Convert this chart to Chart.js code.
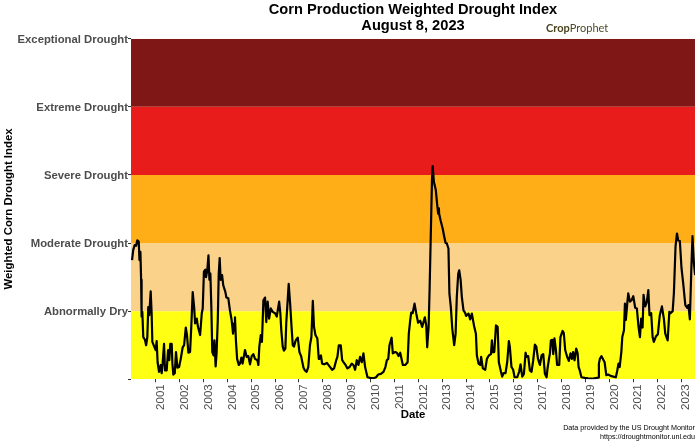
<!DOCTYPE html>
<html><head><meta charset="utf-8">
<style>html,body{margin:0;padding:0;background:#fff}canvas{display:block}</style>
<script src="https://cdn.jsdelivr.net/npm/chart.js@4"></script>
</head><body><canvas id="c" width="700" height="444"></canvas>
<script>
const severityLabels = ['', 'Abnormally Dry', 'Moderate Drought', 'Severe Drought', 'Extreme Drought', 'Exceptional Drought'];
const tickYears = [2001,2002,2003,2004,2005,2006,2007,2008,2009,2010,2011,2012,2013,2014,2015,2016,2017,2018,2019,2020,2021,2022,2023];
const bandColors = ['#FFFF14','#FAD28A','#FFAE17','#E91C1C','#7F1716'];
const dates = [
2000.01,2000.06,2000.12,2000.18,2000.23,2000.29,2000.32,2000.36,2000.39,2000.41,2000.44,2000.48,2000.55,2000.60,2000.65,2000.69,2000.73,2000.79,2000.83,2000.86,2000.94,
2001.00,2001.04,2001.08,2001.14,2001.21,2001.25,2001.29,2001.35,2001.39,2001.46,2001.52,2001.57,2001.61,2001.67,2001.70,2001.74,2001.80,2001.85,2001.91,2001.98,
2002.05,2002.13,2002.19,2002.26,2002.31,2002.37,2002.44,2002.49,2002.55,2002.61,2002.65,2002.72,2002.77,2002.86,2002.93,2002.97,
2003.02,2003.08,2003.11,2003.16,2003.21,2003.25,2003.29,2003.33,2003.37,2003.43,2003.46,2003.51,2003.55,2003.60,2003.64,2003.68,2003.72,2003.78,2003.83,2003.92,2003.96,
2004.04,2004.11,2004.18,2004.24,2004.28,2004.32,2004.36,2004.41,2004.48,2004.53,2004.59,2004.64,2004.74,2004.81,2004.88,2004.95,
2005.02,2005.09,2005.16,2005.26,2005.30,2005.34,2005.40,2005.45,2005.51,2005.58,2005.63,2005.69,2005.75,2005.82,2005.90,
2006.00,2006.07,2006.17,2006.22,2006.26,2006.32,2006.37,2006.43,2006.47,2006.57,2006.63,2006.68,2006.74,2006.79,2006.86,2006.95,
2007.02,2007.09,2007.19,2007.25,2007.32,2007.39,2007.46,2007.52,2007.58,2007.63,2007.69,2007.77,2007.83,2007.86,2007.92,2007.97,
2008.06,2008.17,2008.28,2008.39,2008.47,2008.56,2008.61,2008.67,2008.75,2008.81,2008.87,2008.95,
2009.03,2009.12,2009.21,2009.28,2009.35,2009.42,2009.49,2009.56,2009.63,2009.70,2009.77,2009.87,2009.98,
2010.12,2010.23,2010.32,2010.43,2010.54,2010.62,2010.68,2010.74,2010.79,2010.88,2010.93,
2011.03,2011.10,2011.17,2011.24,2011.35,2011.45,2011.55,2011.60,2011.66,2011.70,2011.76,2011.84,2011.91,2011.99,
2012.08,2012.16,2012.27,2012.33,2012.37,2012.43,2012.47,2012.57,2012.60,2012.65,2012.73,2012.79,2012.83,2012.86,2012.87,2012.93,
2013.02,2013.08,2013.14,2013.19,2013.26,2013.30,2013.36,2013.42,2013.50,2013.56,2013.61,2013.67,2013.71,2013.77,2013.82,2013.89,2013.96,
2014.00,2014.10,2014.17,2014.24,2014.34,2014.41,2014.45,2014.52,2014.59,2014.63,2014.70,2014.80,2014.87,2014.95,
2015.04,2015.08,2015.12,2015.18,2015.25,2015.32,2015.37,2015.46,2015.51,2015.57,2015.65,2015.72,2015.79,2015.83,2015.90,2015.97,
2016.03,2016.14,2016.22,2016.28,2016.35,2016.42,2016.49,2016.53,2016.60,2016.67,2016.74,2016.81,2016.88,2016.94,
2017.01,2017.09,2017.16,2017.23,2017.30,2017.37,2017.41,2017.47,2017.51,2017.55,2017.61,2017.65,2017.70,2017.76,2017.81,2017.90,2017.95,
2018.04,2018.09,2018.15,2018.23,2018.30,2018.37,2018.43,2018.48,2018.54,2018.61,2018.67,2018.71,2018.76,2018.83,2018.97,
2019.11,2019.32,2019.53,2019.56,2019.60,2019.67,2019.74,2019.80,2019.87,2019.95,
2020.05,2020.16,2020.27,2020.33,2020.38,2020.43,2020.50,2020.54,2020.61,2020.65,2020.69,2020.75,2020.79,2020.86,2020.93,
2021.00,2021.08,2021.15,2021.22,2021.28,2021.33,2021.39,2021.43,2021.50,2021.57,2021.63,2021.68,2021.75,2021.81,2021.86,2021.95,
2022.03,2022.11,2022.20,2022.28,2022.34,2022.44,2022.51,2022.56,2022.65,2022.70,2022.77,2022.83,2022.88,2022.95,
2023.02,2023.09,2023.18,2023.26,2023.31,2023.37,2023.43,2023.48,2023.54,2023.59];
const droughtIndex = [
1.75,1.90,1.97,1.96,2.04,2.02,1.75,1.87,1.46,.92,.99,.62,.58,.50,.62,1.06,.94,1.29,.97,.55,.48,
.43,.56,.25,.11,.21,.09,.23,.52,.13,.13,.43,.28,.52,.52,.23,.07,.09,.40,.17,.18,
.30,.47,.50,.76,.65,.39,.40,.77,1.28,1.06,.82,.89,.77,.65,.97,1.04,
1.58,1.61,1.50,1.60,1.82,1.46,1.55,1.06,.40,.35,.57,.19,.38,.87,1.55,1.78,1.46,1.53,1.38,1.28,1.20,
1.19,1.01,.87,.67,.82,.91,.57,.30,.21,.23,.32,.23,.43,.33,.34,.22,
.34,.37,.30,.28,.21,.48,.65,.55,1.16,1.20,.84,1.14,.89,1.04,.99,
.97,.92,1.14,.97,.72,.48,.42,.45,.84,1.40,1.11,.82,.50,.48,.57,.61,
.40,.34,.17,.13,.11,.18,.50,.62,1.15,.77,.65,.60,.30,.30,.35,.23,
.22,.24,.19,.14,.16,.28,.33,.50,.50,.28,.25,.21,
.16,.18,.23,.21,.14,.28,.21,.33,.25,.38,.18,.03,.02,
.015,.03,.07,.08,.11,.18,.28,.30,.50,.61,.38,
.40,.39,.34,.39,.21,.21,.25,.67,.87,.98,.97,1.11,.97,.83,
.86,.77,.91,.79,.47,.77,1.31,2.92,3.13,2.90,2.78,2.555,2.43,2.51,2.43,2.335,
2.21,2.10,2.00,1.995,1.92,1.26,1.06,.745,.50,.67,1.21,1.55,1.60,1.46,1.21,1.01,.975,
.93,.965,.88,.965,.77,.67,.35,.23,.21,.33,.16,.14,.30,.35,
.37,.57,.40,.40,.79,.77,.25,.11,.04,.09,.09,.25,.56,.48,.18,.14,
.03,.03,.11,.22,.04,.08,.39,.33,.34,.13,.11,.28,.51,.48,
.30,.21,.35,.37,.08,.03,.16,.30,.38,.57,.58,.37,.60,.43,.21,.21,.62,
.71,.68,.43,.33,.27,.38,.30,.40,.28,.45,.38,.18,.13,.03,.02,
.015,.01,.025,.23,.30,.34,.29,.25,.06,.07,
.05,.04,.03,.13,.23,.18,.40,.62,.72,1.11,.87,1.12,1.26,1.14,1.16,
1.22,1.05,1.04,.77,.62,.89,.76,1.24,1.07,1.14,1.31,.94,.97,.62,.55,.63,
.66,.94,1.07,.89,.67,.57,.99,.97,1.00,1.26,1.95,2.14,2.04,2.03,
1.63,1.41,1.09,1.05,1.09,.88,1.60,2.10,1.70,1.53];
const xMin = 1999.966, xMax = 2023.585;
const sans = '"Liberation Sans", Arial, sans-serif';

const bandDatasets = bandColors.map((col, i) => ({
  data: [{x: xMin, y: i + 1}, {x: xMax, y: i + 1}],
  fill: {value: i}, backgroundColor: col, borderWidth: 0, pointRadius: 0, order: 2
}));

const notes = {
  id: 'notes',
  afterDraw(ch) {
    const g = ch.ctx; g.save();
    g.textBaseline = 'alphabetic';
    g.textAlign = 'left';
    g.font = 'bold 11px Lato, sans-serif';
    g.fillStyle = '#4a4420';
    g.fillText('Crop', 546, 32);
    const w = g.measureText('Crop').width;
    g.font = '11px Lato, sans-serif';
    g.fillStyle = '#4f4a2a';
    g.fillText('Prophet', 546 + w, 32);
    g.textAlign = 'right';
    g.fillStyle = '#000';
    g.font = '7.2px ' + sans;
    g.fillText('Data provided by the US Drought Monitor', 695, 430);
    g.fillText('https://droughtmonitor.unl.edu', 695, 439);
    g.restore();
  }
};

new Chart(document.getElementById('c'), {
  type: 'line',
  data: {
    datasets: [{
      data: dates.map((d, i) => ({x: d, y: droughtIndex[i]})),
      borderColor: '#000', borderWidth: 2.2, borderJoinStyle: 'round', pointRadius: 0, tension: 0, fill: false, order: 1
    }, ...bandDatasets]
  },
  plugins: [notes],
  options: {
    responsive: false, animation: false, devicePixelRatio: 1,
    layout: {padding: {left: 0, right: 5, top: 0, bottom: 0}},
    plugins: {
      legend: {display: false}, tooltip: {enabled: false},
      title: {
        display: true, fullSize: false,
        text: ['Corn Production Weighted Drought Index', 'August 8, 2023'],
        color: '#000', font: {family: sans, size: 14.65, weight: 'bold', lineHeight: 1.1},
        padding: {top: 2, bottom: 4.4}
      }
    },
    scales: {
      x: {
        type: 'linear', min: xMin, max: xMax,
        afterFit: s => { s.height = 64.7; },
        afterBuildTicks: s => { s.ticks = tickYears.map(v => ({value: v})); },
        grid: {drawOnChartArea: false, drawTicks: true, tickLength: 3, tickColor: '#333'},
        border: {display: false},
        ticks: {
          autoSkip: false, maxRotation: 90, minRotation: 90, labelOffset: 5, padding: 2,
          color: '#4d4d4d', font: {family: sans, size: 11.5},
          callback: v => String(v)
        },
        title: {display: true, text: 'Date', color: '#000', font: {family: sans, size: 11.4, weight: 'bold'}, padding: {top: 0, bottom: 22}}
      },
      y: {
        min: 0, max: 5,
        afterFit: s => { s.width = 131; },
        grid: {drawOnChartArea: false, drawTicks: true, tickLength: 3, tickColor: '#333'},
        border: {display: false},
        ticks: {
          stepSize: 1, padding: 0, labelOffset: 1, color: '#4d4d4d',
          font: {family: sans, size: 11.3, weight: 'bold'},
          callback: v => severityLabels[v]
        },
        title: {display: true, text: 'Weighted Corn Drought Index', color: '#000', font: {family: sans, size: 11.4, weight: 'bold'}, padding: {top: 2, bottom: 0}}
      }
    }
  }
});
</script></body></html>
